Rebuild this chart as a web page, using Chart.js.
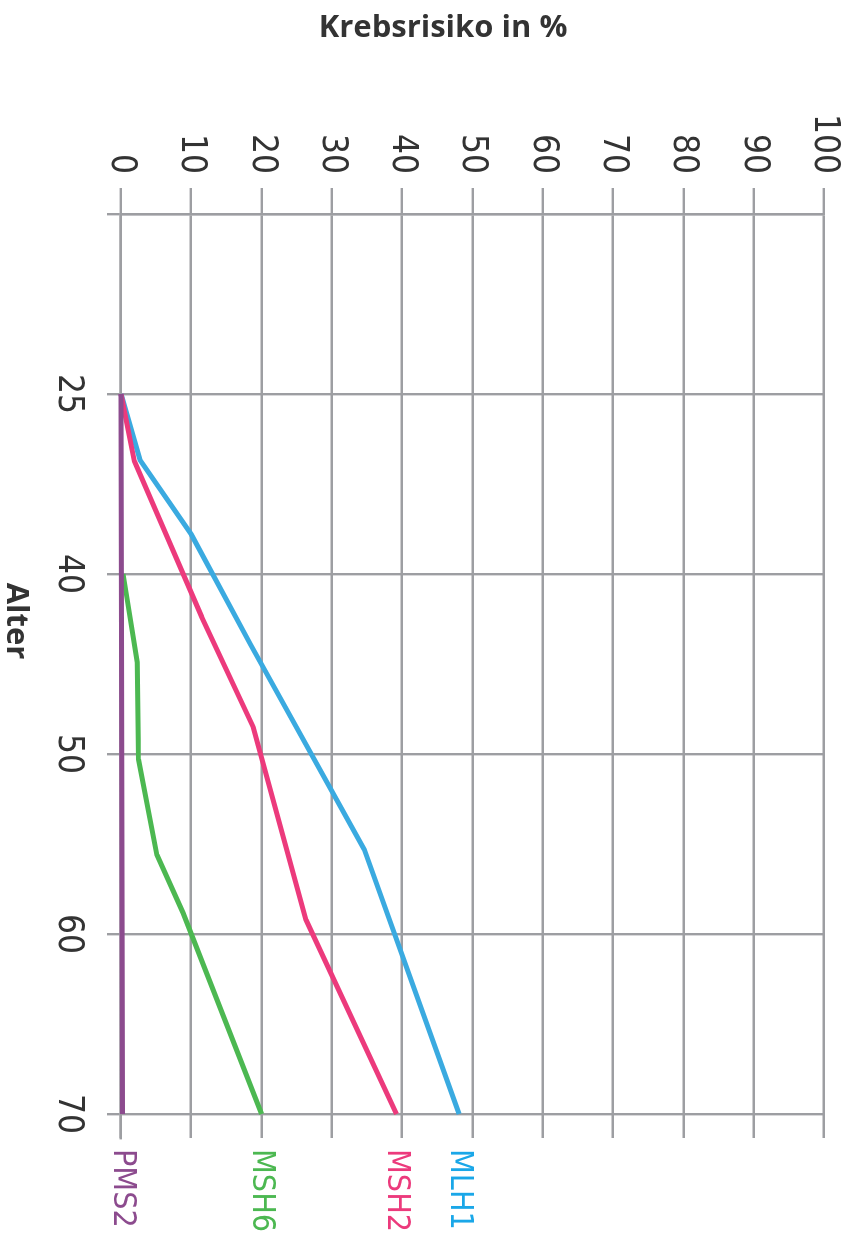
<!DOCTYPE html>
<html lang="de">
<head>
<meta charset="utf-8">
<title>Krebsrisiko nach Alter</title>
<script src="https://cdn.jsdelivr.net/npm/chart.js@4.4.1/dist/chart.umd.min.js"></script>
<style>
    html, body { margin: 0; padding: 0; background: #fff; overflow: hidden; }
    /* Chart wird quer gezeichnet und dann um 90° im Uhrzeigersinn gedreht */
    #wrap {
        position: absolute;
        left: 0;
        top: 0;
        width: 1234px;
        height: 859px;
        transform-origin: 0 0;
        transform: translate(859px, 0) rotate(90deg);
    }
</style>
</head>
<body>
<div id="wrap"><canvas id="riskChart" width="1234" height="859"></canvas></div>
<script>
// Alters-Gitterlinien (erste Linie ohne Beschriftung)
const ageGrid = [10, 25, 40, 50, 60, 70];
const ageLabels = ['', '25', '40', '50', '60', '70'];

// Krebsrisiko in % je Gen
const mlh1Age = [25, 30.5, 36.7, 43.9, 55.3, 70];
const mlh1Risk = [0, 2.7, 10, 18.4, 34.6, 48.1];
const msh2Age = [25, 30.6, 42.4, 48.5, 59.2, 70];
const msh2Risk = [0, 1.9, 11.5, 18.8, 26.3, 39.2];
const msh6Age = [40, 44.9, 50.3, 55.6, 58.8, 70];
const msh6Risk = [0.3, 2.3, 2.5, 5.1, 8.8, 20];
const pms2Age = [25, 70];
const pms2Risk = [0, 0.2];

const GRID = '#9d9ea2';
const TEXT = '#333333';
const FAMILY = '"Liberation Sans Narrow", "DejaVu Sans Condensed", sans-serif';
const TICK_FONT = { family: FAMILY, size: 35 };

// Alter -> Position auf der (gleichmäßig geteilten) Altersachse
function agePos(age) {
    for (let i = 0; i < ageGrid.length - 1; i++) {
        if (age <= ageGrid[i + 1]) {
            return i + (age - ageGrid[i]) / (ageGrid[i + 1] - ageGrid[i]);
        }
    }
    return ageGrid.length - 1;
}

function toPoints(ages, risks) {
    return ages.map((a, i) => ({ x: agePos(a), y: risks[i] }));
}

function series(label, ages, risks, color, labelColor) {
    return {
        label: label,
        data: toPoints(ages, risks),
        borderColor: color,
        labelColor: labelColor || color,
        borderWidth: 5,
        pointRadius: 0,
        tension: 0,
        fill: false,
        clip: false
    };
}

// Titel und Genbezeichnungen am Linienende
const labelPlugin = {
    id: 'labelPlugin',
    afterDraw(chart) {
        const ctx = chart.ctx;
        const yScale = chart.scales.y;

        ctx.save();
        ctx.fillStyle = '#333';
        ctx.font = 'bold 31px "Open Sans", sans-serif';
        ctx.textAlign = 'center';
        ctx.textBaseline = 'middle';
        ctx.translate(28, 416);
        ctx.rotate(-Math.PI / 2);
        ctx.fillText('Krebsrisiko in %', 0, 0);
        ctx.restore();

        ctx.save();
        ctx.fillStyle = '#333';
        ctx.font = 'bold 31px "Open Sans", sans-serif';
        ctx.textAlign = 'center';
        ctx.textBaseline = 'middle';
        ctx.fillText('Alter', 621, 843);
        ctx.restore();

        chart.data.datasets.forEach(ds => {
            const last = ds.data[ds.data.length - 1];
            const y = yScale.getPixelForValue(last.y);
            ctx.save();
            ctx.fillStyle = ds.labelColor;
            ctx.font = '32px ' + FAMILY;
            ctx.textAlign = 'left';
            ctx.textBaseline = 'middle';
            ctx.fillText(ds.label, 1149, y);
            ctx.restore();
        });
    }
};

const ctx = document.getElementById('riskChart').getContext('2d');
const riskChart = new Chart(ctx, {
    type: 'line',
    data: {
        datasets: [
            series('PMS2', pms2Age, pms2Risk, '#8c4b8e'),
            series('MSH6', msh6Age, msh6Risk, '#4cb851'),
            series('MSH2', msh2Age, msh2Risk, '#ec3a7c'),
            series('MLH1', mlh1Age, mlh1Risk, '#3aaae0', '#1aa7e8')
        ]
    },
    options: {
        responsive: false,
        animation: false,
        layout: {
            padding: { top: 15, right: 96, left: 0, bottom: 0 }
        },
        scales: {
            x: {
                type: 'linear',
                min: 0,
                max: 5.133,
                afterFit: scale => { scale.height = 121; },
                ticks: {
                    stepSize: 1,
                    includeBounds: false,
                    autoSkip: false,
                    maxRotation: 0,
                    padding: 18,
                    color: TEXT,
                    font: TICK_FONT,
                    callback: v => ageLabels[v] ?? ''
                },
                grid: {
                    color: GRID,
                    lineWidth: 2.4,
                    tickLength: 14
                },
                border: { color: GRID, width: 2.4 }
            },
            y: {
                min: 0,
                max: 100,
                afterFit: scale => { scale.width = 214; },
                ticks: {
                    stepSize: 10,
                    padding: 14,
                    color: TEXT,
                    font: TICK_FONT
                },
                grid: {
                    color: GRID,
                    lineWidth: 2.4,
                    tickLength: 26
                },
                border: { color: GRID, width: 2.4 }
            }
        },
        plugins: {
            legend: { display: false },
            tooltip: { enabled: false }
        }
    },
    plugins: [labelPlugin]
});
</script>
</body>
</html>
